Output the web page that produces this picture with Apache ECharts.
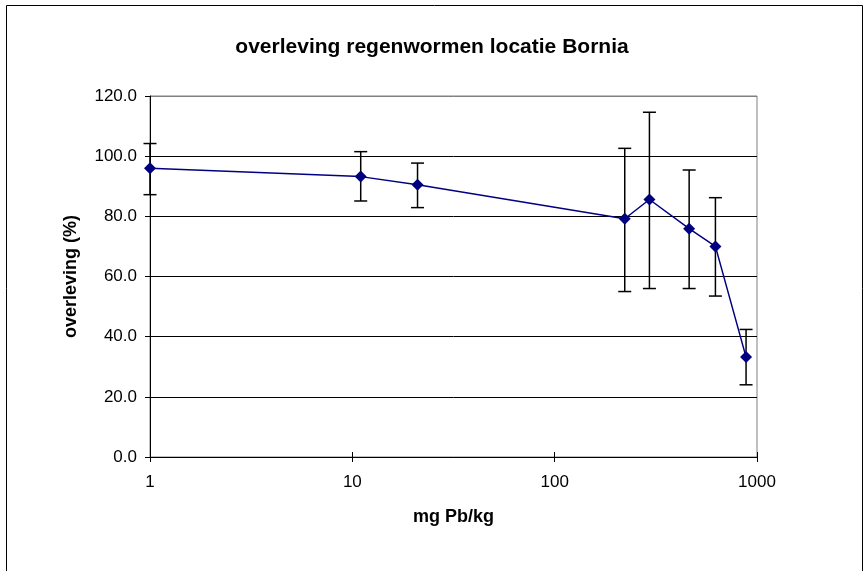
<!DOCTYPE html>
<html>
<head>
<meta charset="utf-8">
<script src="https://cdn.jsdelivr.net/npm/echarts@6/dist/echarts.min.js"></script>
<style>html,body{margin:0;padding:0;background:#fff}#c{width:864px;height:571px}</style>
</head>
<body>
<div id="c"></div>
<script>
var titleText = 'overleving regenwormen locatie Bornia';
var xName = 'mg Pb/kg';
var yName = 'overleving (%)';
var concentration = [1, 11, 21, 222, 294, 462, 623, 883];
var survival = [96.0, 93.2, 90.5, 79.2, 85.6, 75.9, 70.0, 33.2];
var errUpper = [104.2, 101.5, 97.7, 102.6, 114.6, 95.4, 86.2, 42.4];
var errLower = [87.2, 85.1, 82.9, 55.0, 56.0, 56.0, 53.5, 24.0];

var font = '"Liberation Sans", Arial, sans-serif';
var lineData = concentration.map(function (x, i) { return [x, survival[i]]; });
var errData = concentration.map(function (x, i) { return [x, errLower[i], errUpper[i]]; });

var chart = echarts.init(document.getElementById('c'), null, {renderer: 'canvas'});
chart.setOption({
  animation: false,
  backgroundColor: '#ffffff',
  textStyle: {fontFamily: font},
  title: {
    text: titleText, left: 'center', top: 32,
    textStyle: {fontFamily: font, fontSize: 21, fontWeight: 'bold', color: '#000'}
  },
  graphic: [{
    type: 'rect', shape: {x: 6.5, y: 5.5, width: 856, height: 620},
    style: {fill: 'none', stroke: '#000', lineWidth: 1}, z: 100, silent: true
  }],
  grid: {left: 150, top: 96, width: 607, height: 361, show: true, borderColor: '#808080', borderWidth: 1, backgroundColor: '#fff'},
  xAxis: [{
    type: 'log', logBase: 10, min: 1, max: 1000,
    name: xName, nameLocation: 'middle', nameGap: 51,
    nameTextStyle: {fontFamily: font, fontSize: 18, fontWeight: 'bold', color: '#000'},
    axisLine: {lineStyle: {color: '#000', width: 1}},
    axisTick: {show: true, length: 5, lineStyle: {color: '#000'}},
    axisLabel: {margin: 17, fontFamily: font, fontSize: 17, color: '#000', formatter: function (v) { return String(Math.round(v)); }},
    splitLine: {show: false}, minorTick: {show: false}
  }, {
    type: 'log', logBase: 10, min: 1, max: 1000, position: 'bottom',
    axisLine: {show: false},
    axisTick: {show: true, inside: true, length: 5, lineStyle: {color: '#000'}},
    axisLabel: {show: false}, splitLine: {show: false}
  }],
  yAxis: {
    type: 'value', min: 0, max: 120, interval: 20,
    name: yName, nameLocation: 'middle', nameGap: 70,
    nameTextStyle: {fontFamily: font, fontSize: 18, fontWeight: 'bold', color: '#000'},
    axisLine: {show: true, lineStyle: {color: '#000', width: 1}},
    axisTick: {show: true, length: 5, lineStyle: {color: '#000'}},
    axisLabel: {margin: 13, fontFamily: font, fontSize: 17, color: '#000', formatter: function (v) { return v.toFixed(1); }},
    splitLine: {show: true, lineStyle: {color: ['#000', '#000', '#000', '#000', '#000', '#000', '#808080'], width: 1}}
  },
  series: [{
    type: 'custom',
    xAxisIndex: 0,
    data: errData,
    clip: false,
    z: 3,
    renderItem: function (params, api) {
      var x = api.value(0);
      var lo = api.coord([x, api.value(1)]);
      var hi = api.coord([x, api.value(2)]);
      var hw = 6.5;
      var st = {stroke: '#000', lineWidth: 1.5};
      return {type: 'group', children: [
        {type: 'line', shape: {x1: lo[0], y1: lo[1], x2: hi[0], y2: hi[1]}, style: st},
        {type: 'line', shape: {x1: lo[0] - hw, y1: lo[1], x2: lo[0] + hw, y2: lo[1]}, style: st},
        {type: 'line', shape: {x1: hi[0] - hw, y1: hi[1], x2: hi[0] + hw, y2: hi[1]}, style: st}
      ]};
    }
  }, {
    type: 'line',
    xAxisIndex: 0,
    data: lineData,
    z: 5,
    symbol: 'diamond', symbolSize: 12,
    lineStyle: {color: '#000080', width: 1.5},
    itemStyle: {color: '#000080'}
  }]
});
</script>
</body>
</html>
